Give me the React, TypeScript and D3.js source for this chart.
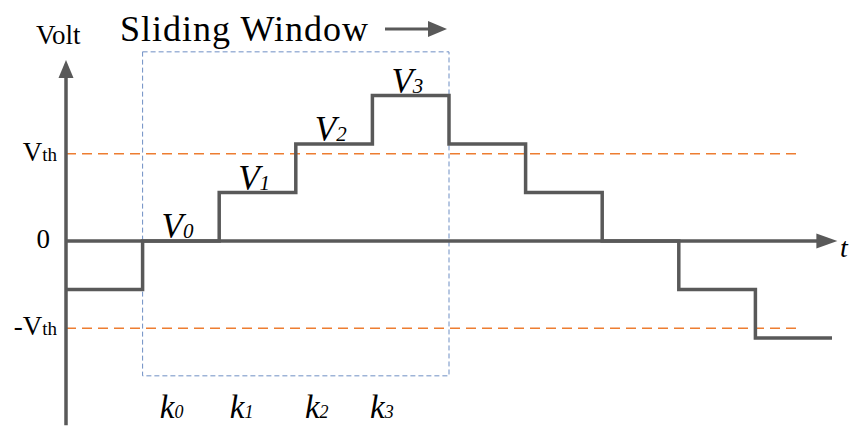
import React from "react";
import * as d3 from "d3";

// Step levels (in units of one voltage step) for each time slot
const levels = [-1, 0, 1, 2, 3, 2, 1, 0, -1, -2];
const vthValue = 1.8;
const yTicks = [
  { label: "V", sub: "th", value: 1.8 },
  { label: "0", sub: "", value: 0 },
  { label: "-V", sub: "th", value: -1.8 },
];
const vLabels = [
  { name: "V", sub: "0", slot: 1 },
  { name: "V", sub: "1", slot: 2 },
  { name: "V", sub: "2", slot: 3 },
  { name: "V", sub: "3", slot: 4 },
];
const kLabels = [
  { name: "k", sub: "0", slot: 1.25 },
  { name: "k", sub: "1", slot: 2.165 },
  { name: "k", sub: "2", slot: 3.145 },
  { name: "k", sub: "3", slot: 3.995 },
];
const windowSlots = [1, 5];
const windowLevels = [3.9, -2.78];

const W = 849;
const H = 426;
const serif = `"Liberation Serif", "Times New Roman", serif`;

export default function App() {
  const x = d3.scaleLinear().domain([0, 10]).range([66, 832]);
  const y = d3.scaleLinear().domain([0, 1]).range([241, 192.5]);

  const stepData: [number, number][] = levels.map((v, i) => [i, v]);
  stepData.push([levels.length, levels[levels.length - 1]]);
  const stepLine = d3
    .line<[number, number]>()
    .x((d) => x(d[0]))
    .y((d) => y(d[1]))
    .curve(d3.curveStepAfter);

  const axisColor = "#595959";
  const x0 = x(0);
  const yTop = y(3.73);
  const yBottom = y(-3.8);
  const xEnd = x(10.07);
  const txt = { fontFamily: serif };

  return (
    <div style={{ position: "fixed", left: 0, top: 0, width: W, height: H, overflow: "hidden" }}>
      <svg width={W} height={H} style={{ display: "block", background: "#fff" }}>
        {/* threshold lines */}
        {[vthValue, -vthValue].map((v, i) => (
          <line
            key={i}
            x1={x0}
            x2={x(9.6)}
            y1={y(v)}
            y2={y(v)}
            stroke="#ED7D31"
            strokeWidth={1.5}
            strokeDasharray="10,6"
          />
        ))}
        {/* sliding window box */}
        <rect
          x={x(windowSlots[0])}
          y={y(windowLevels[0])}
          width={x(windowSlots[1]) - x(windowSlots[0])}
          height={y(windowLevels[1]) - y(windowLevels[0])}
          fill="none"
          stroke="#6F8FC4"
          strokeWidth={1}
          strokeDasharray="5,3"
        />
        {/* axes */}
        <line x1={x0} x2={x0} y1={yBottom} y2={yTop + 14} stroke={axisColor} strokeWidth={3.5} />
        <path
          d={`M${x0},${yTop} L${x0 + 7.5},${yTop + 18} L${x0 - 7.5},${yTop + 18} Z`}
          fill={axisColor}
        />
        <line x1={x0} x2={xEnd - 14} y1={y(0)} y2={y(0)} stroke={axisColor} strokeWidth={3.5} />
        <path
          d={`M${xEnd},${y(0)} L${xEnd - 21},${y(0) - 7.5} L${xEnd - 21},${y(0) + 7.5} Z`}
          fill={axisColor}
        />
        {/* step line */}
        <path d={stepLine(stepData) || ""} fill="none" stroke={axisColor} strokeWidth={3.5} strokeLinejoin="miter" />

        {/* axis labels */}
        <text x={36} y={44} style={txt} fontSize={27} fill="#000">
          Volt
        </text>
        <text x={840} y={257} style={txt} fontStyle="italic" fontSize={28} fill="#000">
          t
        </text>
        {yTicks.map((t, i) => (
          <text
            key={i}
            x={t.sub ? 57 : 50}
            y={y(t.value) + 7}
            style={txt}
            fontSize={27}
            textAnchor="end"
            fill="#000"
          >
            {t.label}
            {t.sub && <tspan fontSize={19}>{t.sub}</tspan>}
          </text>
        ))}

        {/* V labels */}
        {vLabels.map((v, i) => (
          <text
            key={i}
            x={x(v.slot) + 19}
            y={y(levels[v.slot]) - 3}
            style={txt}
            fontStyle="italic"
            fontSize={35}
            fill="#000"
          >
            {v.name}
            <tspan fontSize={21}>{v.sub}</tspan>
          </text>
        ))}

        {/* k labels */}
        {kLabels.map((k, i) => (
          <text
            key={i}
            x={x(k.slot) - 2}
            y={418}
            style={txt}
            fontStyle="italic"
            fontSize={33}
            fill="#000"
          >
            {k.name}
            <tspan fontSize={18}>{k.sub}</tspan>
          </text>
        ))}

        {/* sliding window title */}
        <text x={120} y={41} style={txt} fontSize={36} textLength={248} fill="#000">
          Sliding Window
        </text>
        <line x1={385} x2={432} y1={29} y2={29} stroke={axisColor} strokeWidth={3} />
        <path d="M447,29 L428,21 L428,37 Z" fill={axisColor} />
      </svg>
    </div>
  );
}
